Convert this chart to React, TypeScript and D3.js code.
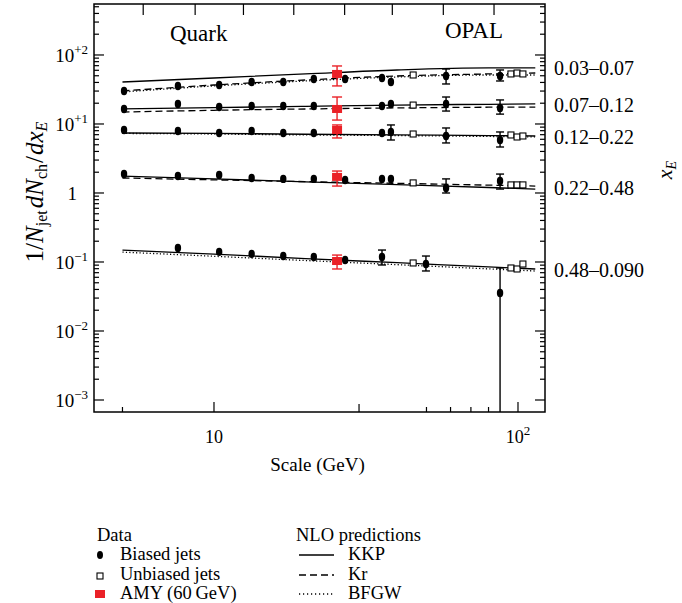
import React from 'react';
import * as d3 from 'd3';

const W = 682;
const H = 603;

const binLabels = ['0.03–0.07', '0.07–0.12', '0.12–0.22', '0.22–0.48', '0.48–0.090'];
const binLabelY = [64.9, 18.8, 6.48, 1.18, 0.0766];

// biased jets: [scale GeV, value, errLow?, errHigh?]
const biased1 = [[5.06, 30.1], [7.61, 35.6], [10.4, 36.7], [13.3, 40.6], [16.9, 40.6], [21.3, 44.9], [27.0, 44.9], [35.7, 46.4], [38.2, 40.6], [58.0, 49.6, 38.0, 62.7], [87.3, 49.6, 42.0, 60.6]];
const biased2 = [[5.06, 16.5], [7.61, 19.5], [10.4, 17.6], [13.3, 18.2], [16.9, 18.2], [21.3, 18.2], [35.7, 18.2], [38.2, 19.5], [58.0, 19.5, 15.4, 24.6], [87.3, 17.1, 13.9, 22.3]];
const biased3 = [[5.06, 8.18], [7.61, 7.92], [10.4, 7.41], [13.3, 7.92], [16.9, 7.41], [21.3, 7.41], [35.7, 7.41], [38.2, 7.66, 5.86, 9.68], [58.0, 6.70, 5.31, 8.75], [87.3, 5.86, 4.64, 7.66]];
const biased4 = [[5.06, 1.88], [7.61, 1.76], [10.4, 1.82], [13.3, 1.65], [16.9, 1.60], [21.3, 1.60], [27.0, 1.54], [35.7, 1.60], [38.2, 1.60], [58.0, 1.18, 1.00, 1.60], [87.3, 1.49, 1.14, 1.88]];
const biased5 = [[7.61, 0.160], [10.4, 0.140], [13.3, 0.131], [16.9, 0.122], [21.3, 0.118], [27.0, 0.107], [35.7, 0.118, 0.0905, 0.149], [49.8, 0.0935, 0.0741, 0.122], [87.3, 0.0356, 0.0004, 0.0819]];

// unbiased jets: [scale GeV, value]
const unbiased1 = [[45.2, 51.3], [94.8, 53.1], [99.3, 54.8], [103.8, 53.1]];
const unbiased2 = [[45.2, 18.8]];
const unbiased3 = [[45.2, 7.16], [94.8, 6.93], [99.3, 6.48], [103.8, 6.70]];
const unbiased4 = [[45.2, 1.40], [94.8, 1.31], [99.3, 1.31], [103.8, 1.31]];
const unbiased5 = [[45.2, 0.0968], [94.8, 0.0819], [99.3, 0.0792], [103.8, 0.0935]];

// AMY (60 GeV): [scale, value, errLow, errHigh]
const amy = [[25.4, 53.1, 35.6, 69.3], [25.4, 16.5, 11.4, 24.6], [25.4, 8.18, 6.27, 9.68], [25.4, 1.71, 1.26, 2.08], [25.4, 0.1033, 0.0792, 0.126]];

// NLO predictions
const curveScale = [5, 10, 20, 40, 80, 114];
const kkp1 = [40.6, 46.4, 53.1, 60.6, 64.9, 64.9];
const kr1 = [30.1, 36.7, 43.4, 49.6, 53.1, 54.8];
const bfgw1 = [29.1, 35.6, 42.0, 48.0, 51.3, 51.3];
const kkp2 = [16.5, 17.3, 18.0, 18.8, 19.3, 19.5];
const kr2 = [14.9, 15.8, 16.5, 17.1, 17.5, 17.6];
const kkp3 = [7.4, 7.3, 7.1, 6.95, 6.8, 6.7];
const bfgw3 = [7.3, 7.15, 6.95, 6.8, 6.6, 6.5];
const kkp4 = [1.76, 1.60, 1.45, 1.32, 1.20, 1.14];
const kr4 = [1.65, 1.55, 1.46, 1.38, 1.30, 1.26];
const kkp5 = [0.149, 0.130, 0.112, 0.0977, 0.0849, 0.0792];
const bfgw5 = [0.139, 0.121, 0.105, 0.0915, 0.0795, 0.0740];

const xTicksBottom = [5, 10, 30, 50, 60, 70, 80, 100];
const xTicksMajor = [10, 100];
const xTicksTop = [5.85, 8.67, 12.5, 18.3, 26.9, 38.6, 56.8, 83.4];
const yDecades = [-3, -2, -1, 0, 1, 2];
const yTickLabels = ['−3', '−2', '−1', '', '+1', '+2'];

const FONT = '"Liberation Serif", "Times New Roman", serif';
const RED = '#ea2127';

const L = 94, R = 545, T = 4, B = 412;

export default function App() {
  const x = d3.scaleLog().domain([4.03, 122.7]).range([L, R]);
  const y = d3.scaleLog().domain([6.7e-4, 548]).range([B, T]);

  const line = d3.line<number>()
    .x((_, i) => x(curveScale[i]))
    .y((d) => y(d))
    .curve(d3.curveMonotoneX);

  const curves: [number[], string][] = [
    [kkp1, 'solid'], [kr1, 'dash'], [bfgw1, 'dot'],
    [kkp2, 'solid'], [kr2, 'dash'],
    [kkp3, 'solid'], [bfgw3, 'dot'],
    [kkp4, 'solid'], [kr4, 'dash'],
    [kkp5, 'solid'], [bfgw5, 'dot'],
  ];
  const dashOf = (s: string) => (s === 'dash' ? '7 4' : s === 'dot' ? '1.2 2.2' : undefined);

  const biased = [biased1, biased2, biased3, biased4, biased5];
  const unbiased = [unbiased1, unbiased2, unbiased3, unbiased4, unbiased5];

  const minorY: { v: number; major: boolean }[] = [];
  yDecades.forEach((d) => {
    for (let m = 1; m <= 9; m++) {
      const v = m * Math.pow(10, d);
      if (v >= 6.7e-4 && v <= 548) minorY.push({ v, major: m === 1 });
    }
  });

  const errBar = (cx: number, lo: number, hi: number, color: string, cap: number, key: string) => (
    <g key={key} stroke={color} strokeWidth={1.4}>
      <line x1={cx} x2={cx} y1={y(lo)} y2={y(hi)} />
      <line x1={cx - cap} x2={cx + cap} y1={y(lo)} y2={y(lo)} />
      <line x1={cx - cap} x2={cx + cap} y1={y(hi)} y2={y(hi)} />
    </g>
  );

  return (
    <svg width={W} height={H} style={{ display: 'block', position: 'absolute', left: 0, top: 0 }} fontFamily={FONT}>
      <rect width={W} height={H} fill="#fff" />
      <defs>
        <clipPath id="plotclip">
          <rect x={L} y={T} width={R - L} height={B - T} />
        </clipPath>
      </defs>

      {/* curves */}
      <g clipPath="url(#plotclip)" fill="none" stroke="#000">
        {curves.map(([vals, style], i) => (
          <path key={i} d={line(vals) || ''} strokeWidth={1.3} strokeDasharray={dashOf(style)} />
        ))}
      </g>

      {/* data */}
      <g clipPath="url(#plotclip)">
        {biased.map((pts, bi) =>
          pts.map((p, i) => (
            <g key={`b${bi}-${i}`}>
              {p.length > 2 && errBar(x(p[0]), p[2], p[3], '#000', 4, `be${bi}-${i}`)}
              <ellipse cx={x(p[0])} cy={y(p[1])} rx={3.2} ry={4.2} fill="#000" />
            </g>
          ))
        )}
        {unbiased.map((pts, bi) =>
          pts.map((p, i) => (
            <rect key={`u${bi}-${i}`} x={x(p[0]) - 3} y={y(p[1]) - 3} width={6} height={6} fill="#fff" stroke="#000" strokeWidth={1.1} />
          ))
        )}
        {amy.map((p, i) => (
          <g key={`a${i}`}>
            {errBar(x(p[0]), p[2], p[3], RED, 5, `ae${i}`)}
            <rect x={x(p[0]) - 5} y={y(p[1]) - 4} width={10} height={8} fill={RED} />
          </g>
        ))}
      </g>

      {/* frame */}
      <rect x={L} y={T} width={R - L} height={B - T} fill="none" stroke="#000" strokeWidth={1.5} />

      {/* ticks */}
      <g stroke="#000" strokeWidth={1.2}>
        {minorY.map((t, i) => (
          <g key={i}>
            <line x1={L} x2={L + (t.major ? 10 : 5)} y1={y(t.v)} y2={y(t.v)} />
            <line x1={R} x2={R - (t.major ? 10 : 5)} y1={y(t.v)} y2={y(t.v)} />
          </g>
        ))}
        {xTicksBottom.map((v, i) => (
          <line key={`xb${i}`} x1={x(v)} x2={x(v)} y1={B} y2={B - (xTicksMajor.includes(v) ? 10 : v === 30 ? 8 : 5)} />
        ))}
        {xTicksTop.map((v, i) => (
          <line key={`xt${i}`} x1={x(v)} x2={x(v)} y1={T} y2={T + 11} />
        ))}
      </g>

      {/* y tick labels */}
      <g fontSize={19} fill="#000">
        {yDecades.map((d, i) =>
          d === 0 ? (
            <text key={i} x={77} y={y(1)} dy="0.35em" textAnchor="end">1</text>
          ) : (
            <text key={i} x={88} y={y(Math.pow(10, d))} dy="0.35em" textAnchor="end">
              10<tspan fontSize={13} dy={-8}>{yTickLabels[i]}</tspan>
            </text>
          )
        )}
      </g>

      {/* x tick labels */}
      <g fontSize={18} fill="#000" textAnchor="middle">
        <text x={x(10)} y={443}>10</text>
        <text x={x(100)} y={443}>10<tspan fontSize={13} dy={-8}>2</tspan></text>
        <text x={(L + R) / 2 - 2} y={471} fontSize={19}>Scale (GeV)</text>
      </g>

      {/* y axis title */}
      <text transform="translate(43,192) rotate(-90)" textAnchor="middle" fontSize={25} fill="#000">
        1/<tspan fontStyle="italic">N</tspan>
        <tspan fontSize={16} dy={4}>jet</tspan>
        <tspan fontStyle="italic" dy={-4} dx={2}>dN</tspan>
        <tspan fontSize={16} dy={4}>ch</tspan>
        <tspan dy={-4} dx={1}>/</tspan>
        <tspan fontStyle="italic" dx={1}>dx</tspan>
        <tspan fontStyle="italic" fontSize={16} dy={4}>E</tspan>
      </text>

      {/* x_E right title */}
      <text transform="translate(672,170) rotate(-90)" textAnchor="middle" fontSize={22} fill="#000">
        <tspan fontStyle="italic">x</tspan>
        <tspan fontStyle="italic" fontSize={14} dy={4}>E</tspan>
      </text>

      {/* annotations */}
      <text x={170} y={41} fontSize={23}>Quark</text>
      <text x={445} y={38} fontSize={23}>OPAL</text>

      {binLabels.map((s, i) => (
        <text key={s} x={554} y={y(binLabelY[i])} dy="0.35em" fontSize={20}>{s}</text>
      ))}

      {/* legend */}
      <g fontSize={18.5} fill="#000">
        <text x={97} y={541}>Data</text>
        <ellipse cx={100} cy={555} rx={3} ry={4} fill="#000" />
        <text x={120} y={560}>Biased jets</text>
        <rect x={97} y={573} width={6} height={6} fill="#fff" stroke="#000" strokeWidth={1.1} />
        <text x={120} y={580}>Unbiased jets</text>
        <rect x={95} y={590} width={10} height={8} fill={RED} />
        <text x={120} y={599}>AMY (60{'\u2009'}GeV)</text>

        <text x={296} y={541}>NLO predictions</text>
        <line x1={299} x2={334} y1={555} y2={555} stroke="#000" strokeWidth={1.3} />
        <text x={348} y={560}>KKP</text>
        <line x1={299} x2={334} y1={575} y2={575} stroke="#000" strokeWidth={1.3} strokeDasharray="7 4" />
        <text x={348} y={580}>Kr</text>
        <line x1={299} x2={334} y1={594} y2={594} stroke="#000" strokeWidth={1.3} strokeDasharray="1.2 2.8" />
        <text x={348} y={599}>BFGW</text>
      </g>
    </svg>
  );
}
